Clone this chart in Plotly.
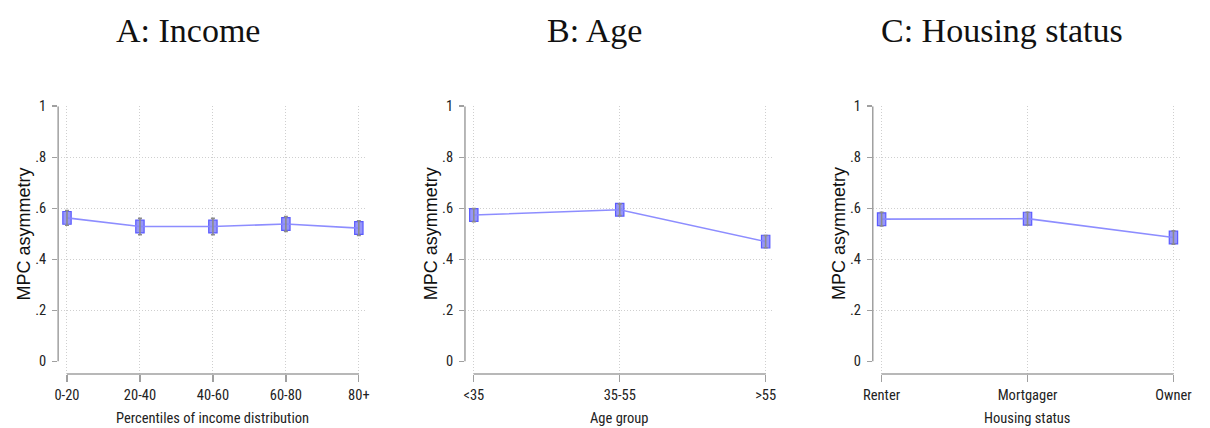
import plotly.graph_objects as go

# ---- data ----
income_cats = ["0-20", "20-40", "40-60", "60-80", "80+"]
income_vals = [0.562, 0.528, 0.528, 0.538, 0.522]
income_err = [0.029, 0.032, 0.032, 0.029, 0.029]

age_cats = ["<35", "35-55", ">55"]
age_vals = [0.573, 0.594, 0.469]
age_err = [0.026, 0.023, 0.024]

housing_cats = ["Renter", "Mortgager", "Owner"]
housing_vals = [0.557, 0.559, 0.485]
housing_err = [0.027, 0.025, 0.026]

y_tickvals = [0, 0.2, 0.4, 0.6, 0.8, 1]
y_ticktext = ["0", ".2", ".4", ".6", ".8", "1"]

panel_titles = ["A: Income", "B: Age", "C: Housing status"]
x_titles = ["Percentiles of income distribution", "Age group", "Housing status"]
y_title = "MPC asymmetry"

panels = [
    (income_cats, income_vals, income_err),
    (age_cats, age_vals, age_err),
    (housing_cats, housing_vals, housing_err),
]

# ---- layout geometry (pixels) ----
W, H = 1210, 428
plot_left = [49, 463, 878]
plot_w = 314
plot_top, plot_bottom = 100, 373
pad_l, pad_r = 9, 8
px_per_unit = 260
marker_w_px, marker_h_px = 8.5, 13

narrow = "Liberation Sans Narrow, Arial Narrow, Roboto Condensed, Liberation Sans, sans-serif"
sans = "Liberation Sans, Arial, sans-serif"
serif = "Liberation Serif, Times New Roman, serif"

LINE = "rgba(135,135,255,0.95)"
MFILL = "rgba(115,115,245,0.75)"
MLINE = "rgba(90,90,255,1)"
ERR = "#8c8c8c"
AX = "#a0a0a0"
GRID = "#cfcfcf"

fig = go.Figure()
layout = dict(
    width=W, height=H,
    margin=dict(l=0, r=0, t=0, b=0),
    paper_bgcolor="white", plot_bgcolor="white",
    showlegend=False, barmode="overlay",
)
shapes = []
annotations = []

y_dom = [1 - plot_bottom / H, 1 - plot_top / H]
y_lo = 1.0 - (plot_bottom - plot_top) / px_per_unit
hh = marker_h_px / 2 / px_per_unit

for i, (cats, vals, errs) in enumerate(panels):
    n = len(cats)
    xs = list(range(n))
    sp = (plot_w - pad_l - pad_r) / (n - 1)
    xr = [-pad_l / sp, (n - 1) + pad_r / sp]
    xa = "x" if i == 0 else f"x{i+1}"
    ya = "y" if i == 0 else f"y{i+1}"
    xkey = "xaxis" if i == 0 else f"xaxis{i+1}"
    ykey = "yaxis" if i == 0 else f"yaxis{i+1}"
    x0 = plot_left[i] / W
    x1 = (plot_left[i] + plot_w) / W

    # connecting line
    fig.add_trace(go.Scatter(
        x=xs, y=vals, xaxis=xa, yaxis=ya, mode="lines",
        line=dict(color=LINE, width=1.6), hoverinfo="skip",
    ))
    # rectangular markers (Stata square symbols, horizontally squeezed)
    fig.add_trace(go.Bar(
        x=xs, y=[2 * hh] * n, base=[v - hh for v in vals],
        xaxis=xa, yaxis=ya, width=marker_w_px / sp,
        marker=dict(color=MFILL, line=dict(color=MLINE, width=1.2)),
        hoverinfo="skip",
    ))
    # confidence intervals
    fig.add_trace(go.Scatter(
        x=xs, y=vals, xaxis=xa, yaxis=ya, mode="markers",
        marker=dict(size=1, color="rgba(0,0,0,0)"),
        error_y=dict(type="data", array=errs, visible=True,
                     color=ERR, thickness=1.6, width=2),
        hoverinfo="skip",
    ))

    layout[xkey] = dict(
        domain=[x0, x1], range=xr, anchor=ya,
        tickmode="array", tickvals=xs, ticktext=cats,
        showgrid=True, gridcolor=GRID, griddash="1px,2px", gridwidth=1,
        zeroline=False, showline=False,
        ticks="outside", ticklen=7, tickcolor=AX, tickwidth=1.3,
        tickfont=dict(family=narrow, size=14.5, color="#222"),
        ticklabelstandoff=1, fixedrange=True,
    )
    layout[ykey] = dict(
        domain=y_dom, range=[y_lo, 1.0], anchor=xa,
        tickmode="array", tickvals=y_tickvals, ticktext=y_ticktext,
        showgrid=False, zeroline=False, showline=False,
        minor=dict(tickvals=y_tickvals[1:-1], showgrid=True, gridcolor=GRID,
                   griddash="1px,2px", gridwidth=1, ticklen=0),
        ticks="outside", ticklen=5, tickcolor=AX, tickwidth=1.3,
        tickfont=dict(family=narrow, size=14.5, color="#222"),
        ticklabelstandoff=3, fixedrange=True,
    )

    # Stata-style axis lines spanning only the data range
    shapes.append(dict(type="line", xref=f"{xa} domain", yref=ya,
                       x0=0, x1=0, y0=y_tickvals[0], y1=y_tickvals[-1],
                       line=dict(color=AX, width=1.5)))
    shapes.append(dict(type="line", xref=xa, yref=f"{ya} domain",
                       x0=xs[0], x1=xs[-1], y0=0, y1=0,
                       line=dict(color=AX, width=1.5)))

    cx = (plot_left[i] + plot_w / 2) / W
    annotations.append(dict(text=x_titles[i], x=cx, y=1 - 418 / H,
                            xref="paper", yref="paper", showarrow=False,
                            xanchor="center", yanchor="middle",
                            font=dict(family=narrow, size=14.5, color="#222")))
    annotations.append(dict(text=y_title, x=(plot_left[i] - 35) / W,
                            y=1 - ((plot_top + 360) / 2) / H,
                            xref="paper", yref="paper", showarrow=False,
                            textangle=-90, xanchor="center", yanchor="middle",
                            font=dict(family=sans, size=18, color="#111")))
    annotations.append(dict(text=panel_titles[i],
                            x=(plot_left[i] + plot_w / 2 - 25) / W, y=1 - 23 / H,
                            xref="paper", yref="paper", showarrow=False,
                            xanchor="center", yanchor="middle",
                            font=dict(family=serif, size=34, color="#111")))

layout["shapes"] = shapes
layout["annotations"] = annotations
fig.update_layout(**layout)
fig.write_html(
    "out.html",
    config={"displayModeBar": False, "staticPlot": True},
    post_script=(
        "document.documentElement.style.margin='0';"
        "document.body.style.margin='0';"
        "document.body.style.overflow='hidden';"
        "var d=document.getElementById('{plot_id}');"
        "d.style.position='fixed';d.style.left='0px';d.style.top='0px';"
    ),
)
